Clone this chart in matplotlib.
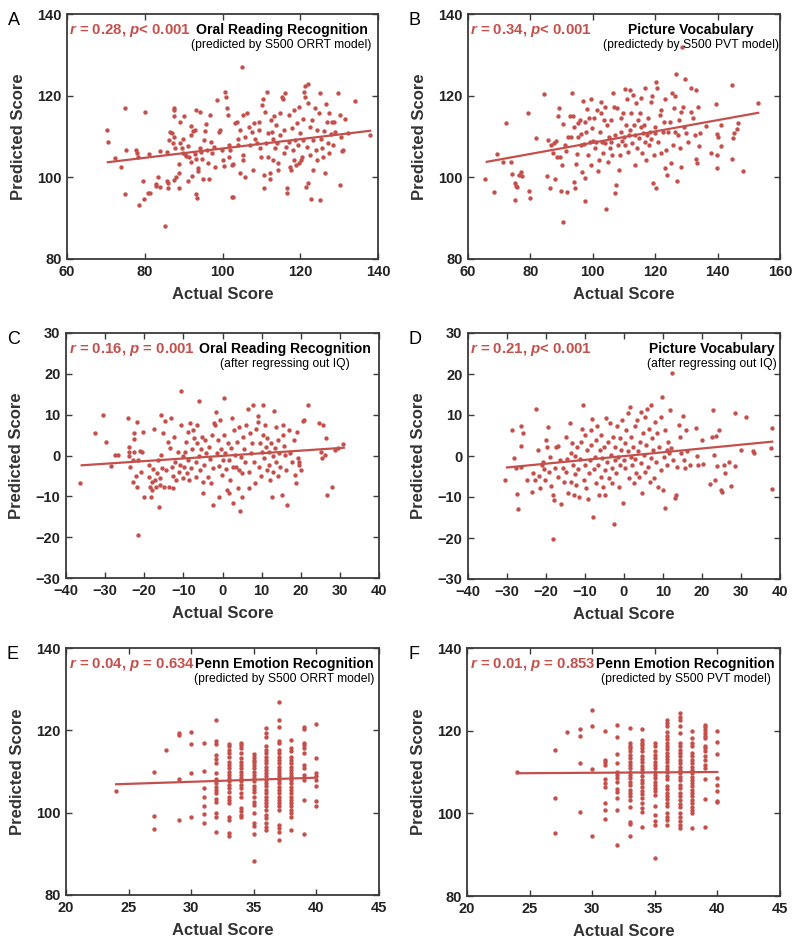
import matplotlib
matplotlib.use("Agg")
import matplotlib.pyplot as plt

plt.rcParams["font.family"] = ["Liberation Sans", "DejaVu Sans"]
plt.rcParams["mathtext.fontset"] = "custom"
plt.rcParams["mathtext.it"] = "Liberation Sans:italic:bold"
plt.rcParams["mathtext.rm"] = "Liberation Sans:bold"

RED = "#c4504c"
FRAME = "#3a3a3a"

# ---- data ----
# A: Oral Reading Recognition (predicted by S500 ORRT model)
pts_a = [(70.3, 111.6), (70.5, 108.6), (72.4, 104.8), (74.0, 102.5), (74.8, 117.1), (75.3, 106.8),
         (74.8, 95.8), (77.8, 106.8), (78.0, 106.0), (78.2, 105.1), (78.5, 93.2), (79.5, 99.2),
         (79.7, 94.8), (80.1, 115.9), (81.0, 105.6), (80.8, 96.1), (81.4, 96.1), (83.0, 97.9),
         (83.3, 100.2), (82.8, 98.3), (83.8, 106.5), (83.8, 97.7), (85.1, 88.2), (85.7, 99.1),
         (85.9, 98.7), (86.1, 97.3), (85.7, 106.3), (86.3, 109.1), (86.6, 111.0), (87.0, 110.9),
         (87.2, 108.5), (87.4, 116.9), (87.6, 116.5), (87.6, 114.9), (87.6, 109.8), (87.8, 107.3),
         (87.4, 99.3), (88.1, 100.2), (88.7, 101.0), (88.7, 97.3), (88.9, 103.3), (89.0, 113.6),
         (89.1, 108.5), (89.6, 107.1), (89.8, 105.9), (89.8, 109.4), (90.2, 114.9), (90.4, 105.6),
         (90.7, 105.2), (91.1, 107.7), (91.0, 99.2), (91.5, 105.1), (91.9, 112.6), (92.0, 110.4),
         (91.9, 103.8), (92.1, 100.4), (92.4, 111.4), (92.8, 111.6), (93.0, 105.7), (93.2, 116.6),
         (93.2, 104.4), (93.1, 95.9), (93.4, 94.9), (93.6, 102.2), (93.8, 101.5), (94.1, 116.1),
         (94.3, 107.1), (94.4, 106.3), (94.7, 104.4), (95.0, 99.7), (95.3, 109.1), (95.6, 111.4),
         (95.8, 113.0), (96.0, 106.7), (96.2, 103.6), (96.4, 99.7), (96.7, 115.3), (97.0, 108.7),
         (97.3, 106.0), (97.7, 107.5), (98.1, 102.6), (98.6, 118.9), (99.0, 111.2), (99.4, 111.6),
         (99.8, 106.7), (100.1, 104.2), (100.3, 102.8), (100.7, 121.0), (101.0, 119.6), (101.1, 116.9),
         (101.3, 115.3), (101.6, 105.1), (101.7, 107.9), (102.0, 106.8), (102.4, 95.1), (102.8, 95.3),
         (102.4, 103.0), (102.8, 103.3), (103.3, 113.2), (103.7, 113.6), (103.9, 109.5), (104.1, 107.9),
         (104.4, 101.0), (104.6, 111.6), (105.0, 126.9), (105.2, 105.5), (105.2, 104.2), (105.4, 115.3),
         (105.7, 100.2), (105.8, 110.0), (106.3, 115.8), (106.7, 112.4), (107.1, 107.9), (107.6, 111.2),
         (107.8, 101.8), (108.0, 113.2), (108.4, 109.5), (108.8, 108.3), (109.3, 113.6), (109.5, 111.6),
         (109.7, 107.1), (109.9, 105.1), (110.1, 117.7), (110.4, 119.3), (110.6, 100.6), (110.7, 97.3),
         (111.0, 116.1), (111.2, 108.5), (111.4, 121.0), (111.6, 105.1), (111.8, 110.8), (112.1, 101.0),
         (112.3, 99.7), (112.4, 114.0), (112.7, 111.2), (113.0, 104.2), (113.1, 109.5), (113.3, 114.9),
         (113.6, 107.1), (113.8, 112.8), (114.0, 108.3), (114.2, 103.4), (114.4, 101.8), (114.7, 115.7),
         (114.8, 110.4), (115.3, 119.7), (115.5, 119.3), (115.7, 105.9), (115.9, 111.6), (116.1, 120.6),
         (116.4, 107.5), (116.6, 97.3), (116.7, 96.1), (117.0, 115.3), (117.2, 108.7), (117.4, 102.6),
         (117.6, 101.8), (117.8, 112.0), (118.1, 106.7), (118.3, 116.5), (118.4, 104.2), (118.7, 109.1),
         (119.0, 103.0), (119.1, 113.2), (119.4, 107.9), (119.6, 117.3), (119.8, 103.4), (120.0, 110.8),
         (120.2, 104.2), (120.4, 105.1), (120.7, 114.4), (120.8, 109.1), (121.0, 121.0), (121.1, 122.4),
         (121.3, 119.6), (121.5, 97.7), (121.7, 107.5), (121.9, 122.9), (122.1, 118.3), (122.1, 98.5),
         (122.4, 112.4), (122.6, 105.5), (122.8, 94.8), (123.0, 114.0), (123.2, 109.1), (123.4, 101.8),
         (123.8, 116.9), (124.1, 106.7), (124.3, 104.2), (124.4, 111.6), (124.7, 115.7), (125.0, 94.4),
         (125.1, 120.7), (125.3, 109.5), (125.6, 107.1), (125.8, 105.1), (126.2, 111.4), (126.4, 101.0),
         (126.7, 117.9), (126.8, 113.6), (127.1, 108.3), (127.3, 115.7), (127.5, 105.9), (127.9, 110.6),
         (128.1, 113.6), (128.4, 107.9), (128.7, 113.6), (129.0, 111.2), (129.8, 120.7), (130.1, 98.1),
         (130.3, 115.3), (130.4, 110.0), (130.7, 106.5), (131.1, 106.7), (131.6, 114.4), (132.4, 110.9),
         (134.0, 118.8), (138.0, 110.4)]
fit_a = [(70.5, 103.7), (138.0, 111.4)]

# B: Picture Vocabulary (predicted by S500 PVT model)
pts_b = [(65.3, 99.6), (68.3, 96.4), (69.3, 105.6), (71.2, 103.8), (72.1, 113.4), (73.9, 103.7),
         (74.2, 100.7), (75.2, 98.5), (75.5, 97.9), (75.8, 97.7), (75.2, 94.5), (76.2, 100.6),
         (77.1, 101.4), (77.4, 100.4), (79.2, 115.8), (79.4, 96.7), (79.9, 95.0), (81.9, 109.6),
         (84.4, 120.3), (85.6, 109.1), (85.4, 100.4), (86.4, 97.3), (86.7, 108.0), (87.2, 105.9),
         (87.6, 108.3), (88.0, 99.6), (88.3, 108.9), (88.6, 105.1), (88.8, 114.9), (89.1, 116.9),
         (89.4, 105.1), (89.7, 96.7), (90.1, 103.0), (90.4, 89.1), (90.4, 113.0), (91.0, 108.0),
         (91.5, 106.5), (91.8, 96.3), (92.1, 110.0), (92.6, 114.9), (92.9, 110.0), (93.3, 120.6),
         (93.7, 114.9), (94.0, 112.4), (94.0, 98.9), (94.2, 97.5), (94.7, 103.2), (95.0, 105.6),
         (95.3, 110.0), (95.3, 113.2), (95.8, 114.0), (96.1, 108.0), (96.3, 110.5), (96.5, 101.2),
         (96.9, 118.8), (97.2, 108.1), (97.4, 99.8), (97.4, 94.3), (97.6, 113.6), (97.9, 111.2),
         (98.2, 116.7), (98.5, 105.5), (98.7, 114.5), (99.0, 108.7), (99.3, 119.3), (99.5, 103.0),
         (99.7, 112.0), (100.1, 108.9), (100.4, 114.5), (100.6, 107.1), (100.9, 108.7), (101.3, 116.5),
         (101.7, 101.6), (101.9, 104.3), (102.2, 111.2), (102.5, 115.7), (102.7, 118.5), (102.9, 108.7),
         (103.3, 105.9), (103.6, 114.0), (103.8, 117.3), (104.0, 108.3), (104.3, 92.2), (104.7, 112.8),
         (104.9, 103.8), (105.1, 110.0), (105.4, 107.1), (105.7, 114.0), (105.9, 108.7), (106.2, 105.5),
         (106.5, 120.6), (106.8, 117.3), (107.0, 96.1), (107.2, 110.4), (107.5, 98.1), (107.9, 116.9),
         (108.1, 108.0), (108.3, 101.8), (108.6, 105.5), (108.9, 111.2), (109.1, 114.5), (109.4, 108.9),
         (109.7, 115.7), (110.0, 110.0), (110.2, 121.6), (110.4, 108.0), (110.7, 112.8), (111.1, 119.3),
         (111.3, 106.3), (111.5, 110.4), (111.8, 121.4), (112.0, 111.6), (112.4, 115.7), (112.6, 108.3),
         (112.9, 120.2), (113.1, 112.8), (113.4, 103.0), (113.6, 110.4), (114.0, 118.1), (114.3, 107.1),
         (114.5, 114.0), (114.7, 109.6), (115.0, 115.7), (115.3, 112.4), (115.6, 119.5), (115.8, 105.9),
         (116.1, 110.8), (116.4, 112.8), (116.6, 108.7), (116.8, 121.8), (117.2, 104.2), (117.5, 110.4),
         (117.7, 114.5), (117.9, 108.0), (118.2, 111.2), (118.5, 118.5), (118.8, 109.5), (119.1, 119.8),
         (119.3, 98.5), (119.6, 105.5), (119.8, 112.4), (120.0, 110.8), (120.4, 123.4), (120.4, 97.3),
         (120.7, 121.8), (120.9, 108.7), (121.4, 115.3), (121.8, 116.5), (122.0, 105.9), (122.5, 111.2),
         (122.8, 113.6), (123.0, 102.2), (123.2, 119.3), (123.6, 106.7), (123.9, 100.6), (124.1, 111.2),
         (124.6, 113.6), (125.0, 103.4), (125.4, 120.6), (125.7, 108.0), (126.0, 116.9), (126.2, 119.8),
         (126.5, 111.2), (126.8, 125.2), (127.1, 99.0), (127.3, 110.4), (127.5, 114.0), (127.8, 107.1),
         (128.2, 116.1), (128.4, 102.6), (128.9, 117.3), (129.2, 112.4), (129.4, 124.2), (130.0, 110.8),
         (130.5, 108.7), (131.4, 121.8), (131.6, 116.1), (132.1, 114.6), (132.6, 110.4), (133.0, 121.4),
         (133.2, 104.6), (133.5, 103.4), (133.7, 117.3), (133.9, 107.7), (134.3, 110.8), (136.4, 112.6),
         (138.0, 105.9), (139.6, 117.9), (139.9, 102.2), (139.9, 105.5), (139.9, 110.6), (140.1, 110.0),
         (141.0, 112.8), (141.0, 107.7), (144.6, 104.5), (144.7, 122.6), (144.9, 109.6), (145.1, 110.8),
         (146.3, 111.8), (146.5, 113.4), (148.1, 101.6), (152.9, 118.1), (128.5, 132.0)]
fit_b = [(66.0, 103.8), (153.0, 115.8)]

# C: Oral Reading Recognition (after regressing out IQ)
pts_c = [(-36.4, -6.7), (-32.5, 5.4), (-30.6, 9.9), (-29.9, 3.4), (-28.5, -2.6), (-27.4, 0.1),
         (-26.8, 0.1), (-24.2, 9.3), (-24.0, 2.2), (-24.0, 0.9), (-23.8, -0.1), (-23.6, -2.7),
         (-23.0, -1.0), (-22.7, 5.6), (-22.7, 4.0), (-23.0, -6.4), (-22.5, 0.9), (-22.1, -5.0),
         (-21.9, -7.6), (-21.9, 8.2), (-21.7, -1.1), (-21.1, 1.2), (-20.8, -4.0), (-20.6, 0.9),
         (-20.2, 5.7), (-20.0, -10.1), (-18.9, -2.3), (-18.7, -5.2), (-18.5, -7.6), (-18.3, -10.2),
         (-18.0, -6.4), (-17.9, -8.4), (-17.7, -3.4), (-17.4, 6.6), (-17.2, -6.0), (-17.0, -7.6),
         (-16.8, -4.4), (-16.6, -1.1), (-16.3, -12.7), (-16.1, -7.2), (-15.9, -5.6), (-15.7, 9.9),
         (-15.7, 0.1), (-15.5, -3.1), (-15.1, 5.6), (-14.9, -7.6), (-14.6, 8.5), (-14.4, -3.6),
         (-14.0, 3.4), (-13.8, -7.8), (-13.4, 1.8), (-13.2, 9.1), (-12.9, -2.9), (-12.7, -8.0),
         (-12.6, -5.0), (-12.3, 4.6), (-12.1, -1.5), (-11.9, -6.0), (-11.5, 0.9), (-11.2, -4.0),
         (-10.9, -2.3), (-10.6, 15.7), (-10.6, 7.5), (-10.2, -0.1), (-10.0, -5.6), (-9.8, -2.7),
         (-9.5, 0.9), (-9.3, 3.4), (-9.2, -4.4), (-8.9, 5.8), (-8.7, -1.1), (-8.5, -6.0),
         (-8.3, 7.9), (-8.1, -3.1), (-7.8, 1.5), (-7.6, 6.2), (-7.2, 4.2), (-6.9, -1.5),
         (-6.8, -5.2), (-6.6, 7.5), (-6.4, 3.0), (-6.1, 13.4), (-5.9, -0.1), (-5.8, -3.6),
         (-5.5, 1.5), (-5.2, 4.6), (-5.1, -6.4), (-4.9, -9.3), (-4.7, -2.3), (-4.4, 3.8),
         (-4.2, 0.5), (-3.8, -5.2), (-3.5, 2.2), (-3.2, -0.9), (-2.9, -6.8), (-2.7, 5.0),
         (-2.5, -3.1), (-2.4, -12.1), (-2.1, 7.9), (-1.8, 7.5), (-1.7, 10.7), (-1.5, 0.5),
         (-1.2, 3.8), (-1.0, -2.6), (-0.8, -10.1), (-0.6, 8.7), (-0.4, 1.5), (-0.1, -4.8),
         (0.0, -1.1), (0.3, 5.0), (0.5, 14.2), (0.7, 0.5), (0.9, -3.4), (1.1, -8.5),
         (1.3, 3.0), (1.6, -9.3), (1.7, -1.1), (1.9, -6.0), (2.2, 1.8), (2.4, 9.1),
         (2.6, -11.6), (2.8, -2.7), (3.0, 6.2), (3.3, 0.1), (3.4, -2.9), (3.6, 3.4),
         (3.9, -8.0), (4.1, -3.6), (4.3, 7.1), (4.5, -13.6), (4.7, -0.3), (5.0, -10.1),
         (5.1, -4.4), (5.3, 4.6), (5.6, 1.5), (5.8, -1.5), (6.0, 7.5), (6.4, 11.5),
         (6.7, -8.0), (6.8, -4.0), (7.0, 5.4), (7.3, 0.5), (7.5, 3.0), (7.9, 12.4),
         (8.1, -1.5), (8.4, -6.8), (8.6, 6.4), (9.0, 8.3), (9.1, 9.7), (9.4, -2.7),
         (9.6, 3.0), (9.8, -5.0), (10.1, 0.9), (10.3, 12.4), (10.4, 5.0), (10.7, -0.7),
         (10.9, 7.5), (11.1, 2.2), (11.3, -3.6), (11.5, 4.2), (11.8, -2.3), (11.9, 0.9),
         (12.1, -6.0), (12.4, 3.0), (12.6, -10.2), (12.8, -0.1), (13.0, -4.0), (13.2, 11.0),
         (13.5, 1.8), (13.7, 7.1), (13.8, -1.5), (14.1, 3.8), (14.3, -5.0), (14.5, 0.5),
         (14.8, -2.7), (15.2, -9.7), (15.4, 7.5), (15.5, 5.0), (15.8, 2.3), (16.0, 0.1),
         (16.2, -3.6), (16.6, -12.1), (16.9, 6.2), (17.2, 0.7), (17.8, -1.5), (18.3, 3.8),
         (18.6, -4.8), (18.8, -6.8), (19.0, 5.8), (19.2, -0.7), (19.5, -1.5), (19.6, -2.3),
         (20.1, -3.6), (20.5, 8.5), (20.9, 8.7), (21.8, 12.4), (24.6, 7.9), (25.2, 0.9),
         (25.4, -0.7), (25.8, 7.5), (26.4, 4.2), (26.3, 0.1), (26.6, -9.7), (28.0, -7.8),
         (28.8, 1.3), (29.4, 1.8), (30.9, 2.8), (-21.7, -19.5)]
fit_c = [(-36.0, -2.4), (31.0, 1.9)]

# D: Picture Vocabulary (after regressing out IQ)
pts_d = [(-30.6, -5.9), (-28.6, 6.3), (-28.2, -0.6), (-27.6, -3.0), (-27.4, -9.3), (-27.2, -13.0),
         (-26.3, 7.3), (-25.9, 5.5), (-26.5, 2.4), (-26.3, -2.6), (-24.8, -5.9), (-23.6, -8.7),
         (-23.3, -4.2), (-22.9, -5.9), (-22.5, 11.4), (-22.1, 1.5), (-21.9, -4.9), (-21.6, -7.9),
         (-21.0, -2.2), (-20.8, -1.4), (-20.5, -3.2), (-20.2, -5.9), (-19.9, 3.9), (-19.7, 2.1),
         (-19.5, 7.0), (-19.3, -3.8), (-19.1, -0.3), (-18.6, -7.3), (-18.2, -9.5), (-17.9, -10.7),
         (-17.8, -3.0), (-17.4, 2.1), (-16.9, 2.4), (-16.8, -5.2), (-16.5, -1.0), (-16.1, -11.7),
         (-15.6, -3.0), (-15.4, -6.3), (-15.0, 4.6), (-14.8, -3.8), (-14.5, -0.8), (-14.4, -9.1),
         (-13.9, 8.1), (-13.7, 0.8), (-13.5, -6.3), (-13.3, 3.1), (-13.1, -2.2), (-12.8, -9.5),
         (-12.6, -4.4), (-12.5, 0.0), (-12.2, -7.1), (-12.0, 2.3), (-11.8, -3.2), (-11.5, -9.9),
         (-11.4, -0.8), (-11.1, 3.5), (-10.8, 6.5), (-10.5, 12.5), (-10.3, -5.9), (-10.1, 5.1),
         (-9.9, -2.2), (-9.7, -7.9), (-9.4, 1.5), (-9.2, -10.6), (-9.1, -4.1), (-8.8, -1.0),
         (-8.5, 6.3), (-8.4, 2.7), (-8.2, 9.0), (-7.9, -14.9), (-7.7, -3.2), (-7.5, -0.2),
         (-7.3, -6.7), (-7.1, 3.9), (-6.8, 7.2), (-6.7, -2.2), (-6.5, -9.5), (-6.2, 1.5),
         (-6.0, -5.0), (-5.8, 5.1), (-5.6, -0.6), (-5.4, -7.5), (-5.1, 2.3), (-5.0, -3.4),
         (-4.8, -9.5), (-4.5, 9.2), (-4.3, -1.4), (-4.1, 3.5), (-3.9, -5.4), (-3.7, 8.0),
         (-3.4, 0.2), (-3.2, -3.0), (-3.1, -6.7), (-2.8, 4.7), (-2.6, -16.6), (-2.4, -1.0),
         (-2.2, 2.3), (-2.0, -4.2), (-1.7, 7.2), (-1.5, -0.2), (-1.4, -7.5), (-1.1, 4.3),
         (-0.9, -2.2), (-0.7, 1.5), (-0.5, 8.8), (-0.3, -11.5), (0.0, -1.0), (0.2, 3.1),
         (0.3, -3.0), (0.6, 6.3), (0.9, 1.1), (1.0, 10.4), (1.2, -5.4), (1.5, 12.0),
         (1.7, -0.2), (1.9, 4.7), (2.1, -2.2), (2.3, 2.3), (2.6, -6.7), (2.7, 7.2),
         (2.9, -0.8), (3.2, -4.2), (3.4, 8.8), (3.6, 1.1), (3.8, -5.0), (4.0, 3.5),
         (4.3, 10.8), (4.4, -1.8), (4.6, -9.1), (4.9, 5.5), (5.1, 0.2), (5.3, -3.8),
         (5.5, 9.6), (5.7, 2.7), (6.0, 11.4), (6.2, -2.8), (6.3, 6.7), (6.6, -6.3),
         (6.8, -0.6), (7.0, 12.4), (7.2, 4.3), (7.4, 1.5), (7.7, -5.4), (8.0, 8.4),
         (8.3, -1.4), (8.5, 5.5), (8.7, -7.5), (9.1, 2.3), (9.4, 9.6), (9.6, -3.4),
         (9.7, 14.3), (10.0, -8.3), (10.3, -0.2), (10.4, -12.8), (10.6, 6.3), (10.9, 1.5),
         (11.1, -2.2), (11.3, 3.5), (11.5, 0.7), (11.7, 11.2), (12.1, 1.9), (12.6, -1.0),
         (13.0, -10.3), (13.4, -9.5), (13.7, -2.6), (14.0, 7.6), (14.3, 4.7), (14.7, 0.7),
         (15.0, 9.8), (15.4, -1.0), (15.7, -3.0), (16.0, 6.3), (16.2, 1.3), (16.8, -2.2),
         (18.5, 6.9), (18.8, 0.0), (19.0, -2.2), (20.0, 3.9), (20.3, -2.0), (22.0, -6.8),
         (22.6, 4.7), (22.8, 11.2), (23.1, 0.2), (23.4, -5.9), (23.7, 4.9), (23.9, -2.4),
         (24.3, 6.3), (24.8, -8.3), (25.1, -8.9), (25.6, -2.2), (26.0, -4.2), (26.8, -1.4),
         (27.5, -7.3), (28.4, 10.6), (28.5, -2.4), (30.1, 1.5), (31.4, 9.6), (33.1, 1.3),
         (33.3, 0.7), (38.0, 6.8), (37.8, 1.9), (38.0, -8.1), (12.2, 20.2), (-18.1, -20.2)]
fit_d = [(-30.0, -2.8), (38.0, 3.5)]

# E: Penn Emotion Recognition (predicted by S500 ORRT model), per actual score
cols_e = {
    24: [105.2],
    27: [110.0, 99.3, 96.0],
    28: [115.3],
    29: [119.3, 118.9, 108.1, 98.2],
    30: [119.7, 116.7, 109.6, 99.0],
    31: [116.9, 110.1, 105.9, 103.9, 101.6, 99.7, 97.6],
    32: [122.6, 117.3, 116.7, 113.9, 113.1, 112.0, 109.6, 108.2, 107.1, 106.3, 105.5, 104.7,
         103.3, 102.5, 99.8, 98.9, 95.4],
    33: [116.7, 116.1, 115.3, 114.4, 113.6, 112.3, 111.6, 110.8, 110.0, 109.2, 108.4, 107.6,
         106.7, 105.9, 105.1, 103.9, 103.1, 102.4, 99.0, 98.2, 95.0, 94.3],
    34: [117.0, 116.5, 115.8, 114.4, 113.2, 112.4, 111.6, 110.8, 110.0, 109.2, 108.4, 107.6,
         106.7, 105.9, 104.7, 103.9, 101.1, 100.3, 99.5, 98.9],
    35: [114.3, 113.5, 112.8, 112.2, 111.6, 110.8, 110.0, 109.2, 108.4, 107.6, 106.5, 105.7,
         104.9, 103.9, 102.7, 101.9, 99.8, 97.4, 96.8, 94.8, 88.3],
    36: [120.5, 119.3, 118.5, 116.1, 115.3, 114.5, 113.6, 112.8, 112.0, 111.2, 110.4, 109.6,
         108.8, 108.0, 107.2, 106.4, 105.5, 104.7, 103.9, 103.1, 102.3, 101.5, 100.7, 99.4,
         98.6, 97.4, 96.6, 95.9],
    37: [126.8, 122.6, 120.8, 117.5, 116.9, 115.3, 114.4, 113.6, 112.8, 112.0, 111.2, 110.4,
         109.6, 108.8, 107.9, 107.1, 106.3, 105.5, 104.7, 103.9, 103.1, 102.3, 101.5, 100.7,
         97.0, 96.2, 95.4, 93.4],
    38: [117.7, 115.7, 114.9, 113.6, 112.8, 112.0, 111.2, 110.4, 109.6, 108.8, 107.9, 107.1,
         106.3, 105.5, 104.7, 103.9, 103.1, 102.3, 101.5, 100.7, 99.8, 99.0, 95.9],
    39: [120.9, 120.4, 117.0, 116.5, 115.7, 114.6, 111.6, 110.8, 109.2, 108.0, 103.1, 94.7],
    40: [121.5, 113.2, 109.7, 108.8, 108.0, 106.5, 102.9, 101.6],
}
fit_e = [(24.0, 106.9), (40.0, 108.5)]

# F: Penn Emotion Recognition (predicted by S500 PVT model), per actual score
cols_f = {
    24: [109.9],
    27: [115.4, 103.7, 95.2],
    28: [119.7],
    29: [120.5, 118.8, 112.1, 100.3],
    30: [125.1, 121.2, 110.8, 94.5],
    31: [120.0, 112.9, 112.3, 111.6, 108.3, 107.3, 106.3, 102.4, 100.7, 98.7],
    32: [121.4, 118.4, 114.4, 112.1, 110.1, 109.3, 108.5, 107.7, 105.8, 105.1, 103.6, 100.7, 92.3],
    33: [120.6, 116.9, 116.3, 115.7, 115.0, 114.2, 113.3, 112.5, 111.7, 110.9, 110.1, 109.3,
         108.5, 107.7, 106.9, 105.7, 104.9, 104.1, 103.2, 101.5, 98.0, 97.4, 94.5],
    34: [120.5, 117.8, 117.1, 116.6, 115.8, 115.0, 113.9, 113.1, 112.3, 111.5, 110.7, 109.9,
         109.1, 108.1, 107.3, 106.3, 105.5, 104.6, 103.7, 102.4, 101.2, 100.4, 96.8],
    35: [117.0, 116.2, 115.0, 114.2, 113.3, 112.5, 111.7, 110.9, 110.1, 109.3, 108.5, 107.7,
         106.9, 106.1, 105.3, 104.5, 101.8, 99.6, 98.2, 97.2, 89.3],
    36: [122.5, 121.8, 121.2, 119.6, 118.8, 118.0, 117.1, 116.3, 115.5, 114.7, 113.9, 113.1,
         112.3, 111.5, 110.7, 109.9, 109.1, 108.3, 106.6, 105.8, 105.0, 104.2, 103.4, 102.6,
         101.8, 100.0, 99.2, 98.4, 97.2],
    37: [124.3, 123.4, 122.6, 121.2, 119.4, 117.0, 116.2, 115.4, 114.6, 113.8, 113.0, 112.1,
         111.3, 110.5, 109.7, 108.9, 108.1, 106.9, 106.1, 104.9, 104.1, 103.2, 102.3, 101.5,
         100.0, 99.0, 98.2, 97.2, 96.4],
    38: [120.0, 118.2, 117.1, 116.2, 114.6, 113.8, 113.0, 112.1, 111.3, 110.5, 109.7, 108.9,
         108.1, 107.3, 106.5, 105.7, 104.9, 104.1, 103.2, 102.4, 101.6, 100.8, 100.0, 96.4],
    39: [121.4, 120.9, 120.2, 119.4, 118.8, 118.2, 116.3, 115.8, 115.2, 113.8, 113.0, 111.7,
         110.9, 108.3, 103.5, 96.6],
    40: [120.0, 117.2, 114.4, 108.5, 106.9, 105.3, 103.0, 102.7],
}
fit_f = [(24.0, 109.7), (40.0, 110.0)]


def unpack_cols(cols):
    xs, ys = [], []
    for k, vals in cols.items():
        xs += [k] * len(vals)
        ys += vals
    return list(zip(xs, ys))


panels = [
    dict(letter="A", pts=pts_a, fit=fit_a, xlim=(60, 140), xt=[60, 80, 100, 120, 140],
         ylim=(80, 140), yt=[80, 100, 120, 140], stat=r"$r$ = 0.28, $p$< 0.001",
         title="Oral Reading Recognition", sub="(predicted by S500 ORRT model)", tx=0.690),
    dict(letter="B", pts=pts_b, fit=fit_b, xlim=(60, 160), xt=[60, 80, 100, 120, 140, 160],
         ylim=(80, 140), yt=[80, 100, 120, 140], stat=r"$r$ = 0.34, $p$< 0.001",
         title="Picture Vocabulary", sub="(predictedy by S500 PVT model)", tx=0.714),
    dict(letter="C", pts=pts_c, fit=fit_c, xlim=(-40, 40), xt=[-40, -30, -20, -10, 0, 10, 20, 30, 40],
         ylim=(-30, 30), yt=[-30, -20, -10, 0, 10, 20, 30], stat=r"$r$ = 0.16, $p$ = 0.001",
         title="Oral Reading Recognition", sub="(after regressing out IQ)", tx=0.700),
    dict(letter="D", pts=pts_d, fit=fit_d, xlim=(-40, 40), xt=[-40, -30, -20, -10, 0, 10, 20, 30, 40],
         ylim=(-30, 30), yt=[-30, -20, -10, 0, 10, 20, 30], stat=r"$r$ = 0.21, $p$< 0.001",
         title="Picture Vocabulary", sub="(after regressing out IQ)", tx=0.781),
    dict(letter="E", pts=unpack_cols(cols_e), fit=fit_e, xlim=(20, 45), xt=[20, 25, 30, 35, 40, 45],
         ylim=(80, 140), yt=[80, 100, 120, 140], stat=r"$r$ = 0.04, $p$ = 0.634",
         title="Penn Emotion Recognition", sub="(predicted by S500 ORRT model)", tx=0.697),
    dict(letter="F", pts=unpack_cols(cols_f), fit=fit_f, xlim=(20, 45), xt=[20, 25, 30, 35, 40, 45],
         ylim=(80, 140), yt=[80, 100, 120, 140], stat=r"$r$ = 0.01, $p$ = 0.853",
         title="Penn Emotion Recognition", sub="(predicted by S500 PVT model)", tx=0.698),
]

W, H = 793, 940
fig = plt.figure(figsize=(W / 100, H / 100), dpi=100)

# axes boxes in pixels: left, top, right, bottom
boxes = [(67, 14, 378, 259), (468, 14, 780, 259),
         (66, 333, 379, 578), (468, 333, 780, 579),
         (66, 648, 379, 895), (467, 648, 780, 896)]

for p, (l, t, r, b) in zip(panels, boxes):
    ax = fig.add_axes([l / W, 1 - b / H, (r - l) / W, (b - t) / H])
    xs = [q[0] for q in p["pts"]]
    ys = [q[1] for q in p["pts"]]
    ax.scatter(xs, ys, s=10, color=RED, linewidths=0, zorder=3)
    fx = [q[0] for q in p["fit"]]
    fy = [q[1] for q in p["fit"]]
    ax.plot(fx, fy, color=RED, lw=1.6, zorder=4)

    ax.set_xlim(p["xlim"])
    ax.set_ylim(p["ylim"])
    ax.set_xticks(p["xt"])
    ax.set_yticks(p["yt"])
    ax.set_xticklabels([str(v).replace("-", "\u2212") for v in p["xt"]], fontweight="bold")
    ax.set_yticklabels([str(v).replace("-", "\u2212") for v in p["yt"]], fontweight="bold")
    ax.tick_params(direction="in", length=4, width=1.0, labelsize=10.5, color=FRAME,
                   top=True, right=True, pad=4, labelcolor="#222222")
    for s in ax.spines.values():
        s.set_color(FRAME)
        s.set_linewidth(1.3)
    ax.set_xlabel("Actual Score", fontsize=12, fontweight="bold", color="#333333", labelpad=6)
    ax.set_ylabel("Predicted Score", fontsize=12, fontweight="bold", color="#333333", labelpad=8)

    ax.text(0.008, 0.918, p["stat"], transform=ax.transAxes, color=RED, fontsize=10.8,
            fontweight="bold", ha="left", va="baseline", zorder=5)
    ax.text(p["tx"], 0.918, p["title"], transform=ax.transAxes, color="black", fontsize=10.1,
            fontweight="bold", ha="center", va="baseline", zorder=5)
    ax.text(p["tx"], 0.862, p["sub"], transform=ax.transAxes, color="black", fontsize=8.7,
            ha="center", va="baseline", zorder=5)

    fig.text((l - 59) / W, 1 - (t - 2) / H, p["letter"], fontsize=13, ha="left", va="top")

fig.savefig("out.png", dpi=100)
